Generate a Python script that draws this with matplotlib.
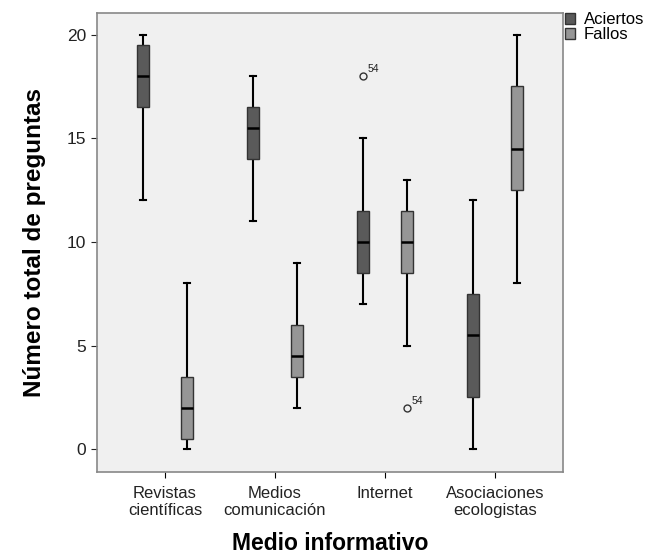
import numpy as np
import matplotlib.pyplot as plt
from matplotlib.patches import Patch

plt.rcParams['font.family'] = ['Liberation Sans', 'DejaVu Sans']

categorias = ["Revistas\ncientíficas", "Medios\ncomunicación", "Internet", "Asociaciones\necologistas"]

# (whislo, q1, med, q3, whishi) leido do grafico
aciertos = [(12, 16.5, 18, 19.5, 20), (11, 14, 15.5, 16.5, 18), (7, 8.5, 10, 11.5, 15), (0, 2.5, 5.5, 7.5, 12)]
fallos = [(0, 0.5, 2, 3.5, 8), (2, 3.5, 4.5, 6, 9), (5, 8.5, 10, 11.5, 13), (8, 12.5, 14.5, 17.5, 20)]
outliers_aciertos = [[], [], [18], []]
outliers_fallos = [[], [], [2], []]
etiqueta_outlier = "54"

def stats(vals, outs):
    res = []
    for (lo, q1, med, q3, hi), fl in zip(vals, outs):
        res.append(dict(whislo=lo, q1=q1, med=med, q3=q3, whishi=hi, fliers=fl))
    return res

fig = plt.figure(figsize=(6.46, 5.6), dpi=100)
ax = fig.add_axes([0.150, 0.157, 0.7214, 0.820])
ax.set_facecolor("#f0f0f0")

pos = np.arange(1, len(categorias) + 1)
off = 0.2
for datos, outs, color, d in [(aciertos, outliers_aciertos, "#5a5a5a", -off),
                              (fallos, outliers_fallos, "#969696", off)]:
    ax.bxp(stats(datos, outs), positions=pos + d, widths=0.115, patch_artist=True,
           boxprops=dict(facecolor=color, edgecolor="#333333", linewidth=1, zorder=3),
           medianprops=dict(color="black", linewidth=1.8, zorder=4),
           whiskerprops=dict(color="black", linewidth=1.5, zorder=2),
           capprops=dict(color="black", linewidth=1.5),
           capwidths=0.055,
           flierprops=dict(marker="o", markerfacecolor="none", markeredgecolor="#333333",
                           markersize=5, markeredgewidth=1))
    for p, fl in zip(pos + d, outs):
        for v in fl:
            ax.annotate(etiqueta_outlier, (p, v), xytext=(3, 3), textcoords="offset points",
                        fontsize=7.5, color="#222222")

ax.set_xlim(0.382, 4.618)
ax.set_ylim(-1.1, 21.05)
ax.set_xticks(pos)
ax.set_xticklabels(categorias, fontsize=12, color="#222222")
ax.set_yticks([0, 5, 10, 15, 20])
ax.tick_params(axis="y", labelsize=12.5, length=4, colors="#222222")
ax.tick_params(axis="x", length=4, pad=6)
for s in ax.spines.values():
    s.set_color("#888888")
    s.set_linewidth(1.2)

ax.set_xlabel("Medio informativo", fontsize=16.5, fontweight="bold", labelpad=10)
ax.set_ylabel("Número total de preguntas", fontsize=17.5, fontweight="bold", labelpad=15)

handles = [Patch(facecolor="#5a5a5a", edgecolor="#333333"), Patch(facecolor="#969696", edgecolor="#333333")]
fig.legend(handles, ["Aciertos", "Fallos"], loc="upper left", bbox_to_anchor=(0.875, 0.978),
           frameon=False, fontsize=12, handlelength=0.6, handleheight=0.6,
           handletextpad=0.5, labelspacing=0.0, borderaxespad=0, borderpad=0)

fig.savefig("out.png", dpi=100)
